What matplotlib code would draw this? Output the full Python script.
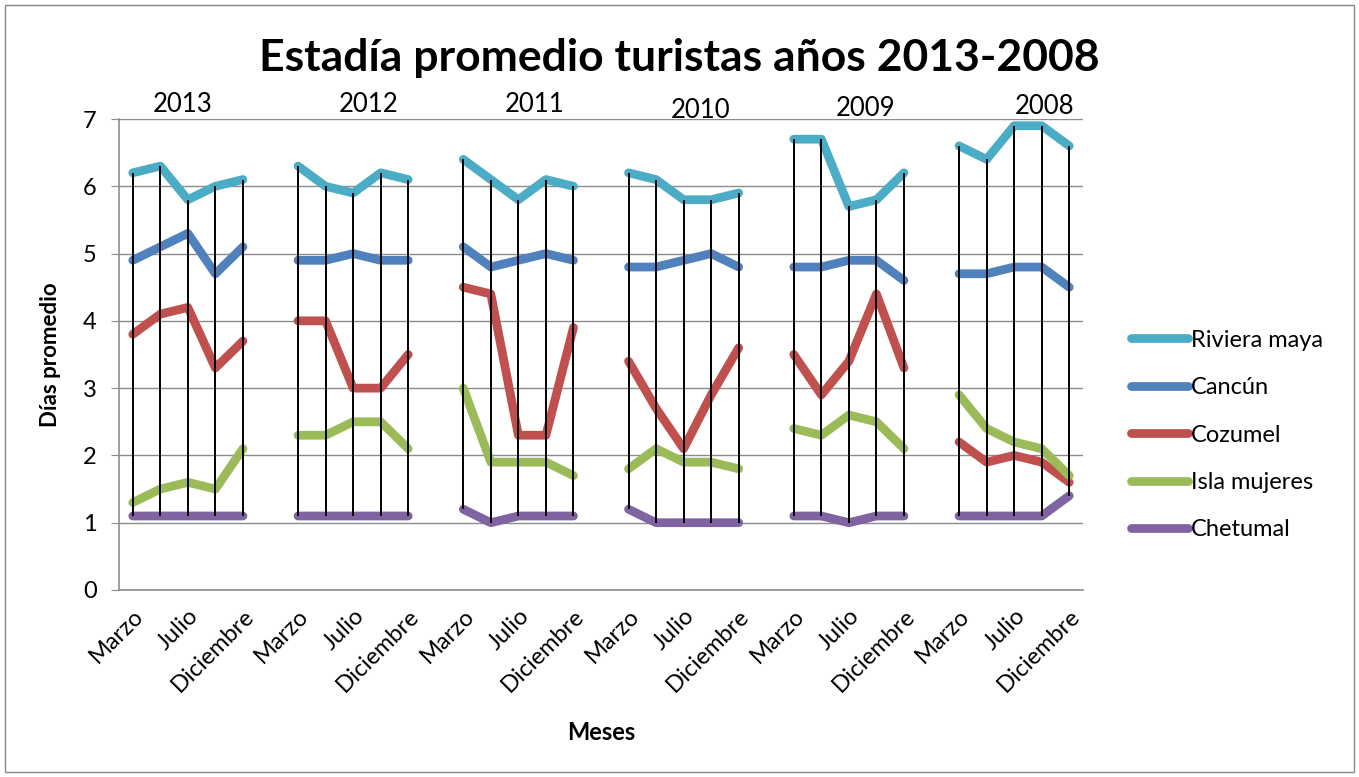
import numpy as np
import matplotlib
matplotlib.use("Agg")
import matplotlib.pyplot as plt
from matplotlib.patches import Rectangle

plt.rcParams['font.family'] = ['Lato', 'DejaVu Sans']

years = ["2013", "2012", "2011", "2010", "2009", "2008"]
month_labels = ["Marzo", "", "Julio", "", "Diciembre"]

riviera = [[6.2, 6.3, 5.8, 6.0, 6.1], [6.3, 6.0, 5.9, 6.2, 6.1], [6.4, 6.1, 5.8, 6.1, 6.0],
           [6.2, 6.1, 5.8, 5.8, 5.9], [6.7, 6.7, 5.7, 5.8, 6.2], [6.6, 6.4, 6.9, 6.9, 6.6]]
cancun = [[4.9, 5.1, 5.3, 4.7, 5.1], [4.9, 4.9, 5.0, 4.9, 4.9], [5.1, 4.8, 4.9, 5.0, 4.9],
          [4.8, 4.8, 4.9, 5.0, 4.8], [4.8, 4.8, 4.9, 4.9, 4.6], [4.7, 4.7, 4.8, 4.8, 4.5]]
cozumel = [[3.8, 4.1, 4.2, 3.3, 3.7], [4.0, 4.0, 3.0, 3.0, 3.5], [4.5, 4.4, 2.3, 2.3, 3.9],
           [3.4, 2.7, 2.1, 2.9, 3.6], [3.5, 2.9, 3.4, 4.4, 3.3], [2.2, 1.9, 2.0, 1.9, 1.6]]
isla = [[1.3, 1.5, 1.6, 1.5, 2.1], [2.3, 2.3, 2.5, 2.5, 2.1], [3.0, 1.9, 1.9, 1.9, 1.7],
        [1.8, 2.1, 1.9, 1.9, 1.8], [2.4, 2.3, 2.6, 2.5, 2.1], [2.9, 2.4, 2.2, 2.1, 1.7]]
chetumal = [[1.1, 1.1, 1.1, 1.1, 1.1], [1.1, 1.1, 1.1, 1.1, 1.1], [1.2, 1.0, 1.1, 1.1, 1.1],
            [1.2, 1.0, 1.0, 1.0, 1.0], [1.1, 1.1, 1.0, 1.1, 1.1], [1.1, 1.1, 1.1, 1.1, 1.4]]

series_names = ["Riviera maya", "Cancún", "Cozumel", "Isla mujeres", "Chetumal"]
series_data = [riviera, cancun, cozumel, isla, chetumal]
colors = ["#4BACC6", "#4F81BD", "#C0504D", "#9BBB59", "#8064A2"]

# year label positions (category units, value units)
year_label_x = [1.82, 8.55, 14.6, 20.6, 26.6, 33.1]
year_label_y = [7.21, 7.21, 7.21, 7.13, 7.16, 7.19]


def flatten(groups):
    out = []
    for i, g in enumerate(groups):
        out.extend(g)
        if i < len(groups) - 1:
            out.append(np.nan)
    return np.array(out, dtype=float)


labels = []
for i in range(len(years)):
    labels.extend(month_labels)
    if i < len(years) - 1:
        labels.append("")

fig = plt.figure(figsize=(13.59, 7.77), dpi=100)
fig.patches.append(Rectangle((0.004, 0.006), 0.992, 0.988, transform=fig.transFigure,
                             fill=False, edgecolor="#898989", linewidth=1.0))
ax = fig.add_axes([119 / 1359, 1 - 590 / 777, (1083 - 119) / 1359, (590 - 119) / 777])

flat = [flatten(s) for s in series_data]
x = np.arange(len(flat[0]))

for name, y, c in zip(series_names, flat, colors):
    ax.plot(x, y, color=c, lw=6.3, solid_capstyle="round", solid_joinstyle="round",
            label=name, zorder=3)

stack = np.vstack(flat)
valid = ~np.isnan(stack[0])
ax.vlines(x[valid], np.nanmin(stack[:, valid], axis=0), np.nanmax(stack[:, valid], axis=0),
          color="black", lw=1.4, zorder=4)

ax.set_xlim(-0.5, len(x) - 0.5)
ax.set_ylim(0, 7)
ax.set_yticks(range(0, 8))
ax.yaxis.grid(True, color="#8c8c8c", lw=1.0)
ax.set_axisbelow(True)
for s in ["top", "right"]:
    ax.spines[s].set_visible(False)
for s in ["left", "bottom"]:
    ax.spines[s].set_color("#8c8c8c")
    ax.spines[s].set_linewidth(1.2)
ax.tick_params(axis="y", length=6, color="#8c8c8c", labelsize=17, pad=10)
ax.tick_params(axis="x", length=0, labelsize=17, pad=11)

tick_pos = [i for i, l in enumerate(labels) if l]
ax.set_xticks(tick_pos)
ax.set_xticklabels([labels[i] for i in tick_pos], rotation=45, ha="right",
                   rotation_mode="anchor")

for yr, xp, yp in zip(years, year_label_x, year_label_y):
    ax.text(xp, yp, yr, ha="center", va="center", fontsize=18.5, clip_on=False)

ax.set_ylabel("Días promedio", fontsize=16, fontweight="bold", labelpad=16)
ax.set_xlabel("Meses", fontsize=17, fontweight="bold", labelpad=18)

fig.text(0.5, 1 - 58 / 777, "Estadía promedio turistas años 2013-2008", ha="center",
         va="center", fontsize=32, fontweight="bold")

leg = ax.legend(loc="center left", bbox_to_anchor=(1110 / 1359, 1 - 435 / 777),
                bbox_transform=fig.transFigure, frameon=False, fontsize=17,
                handlelength=2.4, handletextpad=0.12, labelspacing=1.12)

fig.savefig("out.png", dpi=100)
